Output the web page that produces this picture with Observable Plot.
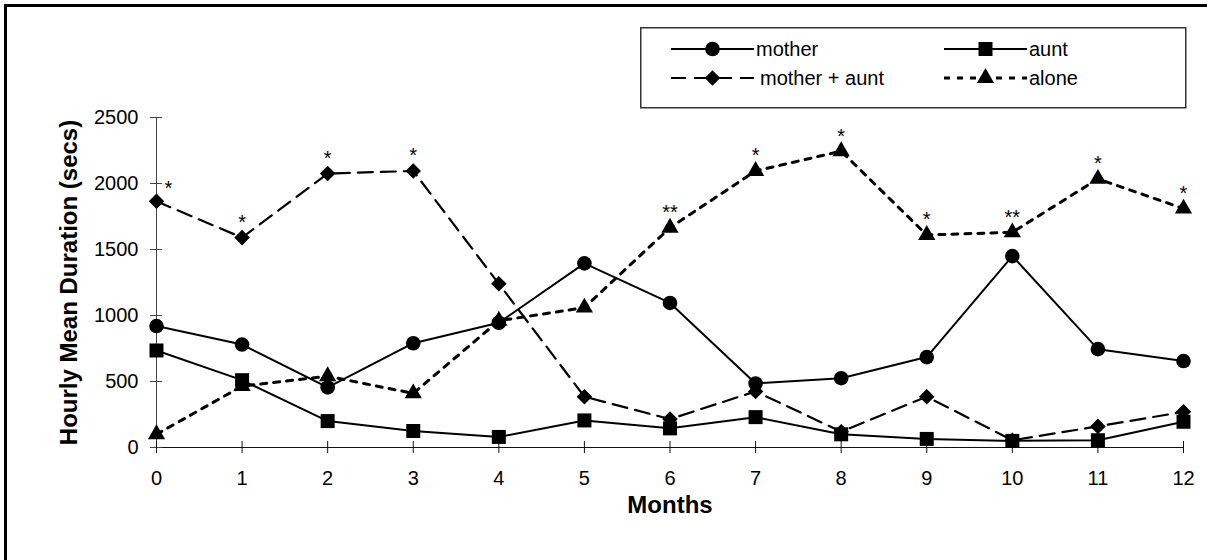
<!DOCTYPE html>
<html><head><meta charset="utf-8">
<script src="https://cdn.jsdelivr.net/npm/d3@7"></script>
<script src="https://cdn.jsdelivr.net/npm/@observablehq/plot@0.6"></script>
<style>
body{margin:0;background:#fff;}
#wrap{position:relative;width:1207px;height:560px;overflow:hidden;font-family:"Liberation Sans",Arial,sans-serif;background:#fff;}
#chart{position:absolute;left:0;top:0;}
#frame{position:absolute;left:4px;top:4px;width:1400px;height:800px;border:3px solid #000;box-sizing:border-box;pointer-events:none;}
#legend{position:absolute;left:640px;top:27px;}
</style></head>
<body><div id="wrap"><div id="chart"></div><svg id="legend"></svg><div id="frame"></div></div>
<script>
// ---- data ----
const months = [0,1,2,3,4,5,6,7,8,9,10,11,12];
const motherVals     = [920, 780, 455, 790, 945, 1395, 1095, 485, 525, 685, 1450, 745, 655];
const auntVals       = [735, 510, 200, 125, 80, 205, 145, 230, 100, 65, 50, 55, 195];
const motherAuntVals = [1865, 1590, 2075, 2095, 1240, 385, 215, 425, 120, 385, 55, 160, 270];
const aloneVals      = [100, 465, 540, 410, 960, 1060, 1665, 2095, 2245, 1610, 1630, 2035, 1810];
const motherAuntStars = ["*","*","*","*","","","","","","","","",""];
const aloneStars      = ["","","","","","","**","*","*","*","**","*","*"];
const seriesNames = ["mother","aunt","mother + aunt","alone"];
const yTicks = [0,500,1000,1500,2000,2500];
const xTitle = "Months";
const yTitle = "Hourly Mean Duration (secs)";

const seriesVals = [motherVals, auntVals, motherAuntVals, aloneVals];
const rows = seriesNames.flatMap((s,i)=>months.map((m,j)=>({series:s, month:m, value:seriesVals[i][j]})));
const stars = [
  ...months.map((m,j)=>({series:"mother + aunt", month:m, value:motherAuntVals[j], label:motherAuntStars[j]})),
  ...months.map((m,j)=>({series:"alone", month:m, value:aloneVals[j], label:aloneStars[j]}))
].filter(d=>d.label);

const style = {
  "mother":        {symbol:"circle",   r:7.3, dash:null,   sw:2},
  "aunt":          {symbol:"square",   r:7.9, dash:null,   sw:2},
  "mother + aunt": {symbol:"diamond2", r:7.0, dash:"15,8", sw:2.2},
  "alone":         {symbol:"triangle", r:6.4, dash:"6,7",  sw:3}
};
const font = "Liberation Sans, Arial, sans-serif";

const marks = [
  Plot.ruleX([0], {stroke:"#444", strokeWidth:1}),
  Plot.ruleY([0], {stroke:"#111", strokeWidth:1}),
  Plot.axisY({ticks:yTicks, tickSize:12, dx:6, tickPadding:12, tickFormat:d=>String(d), label:null, stroke:"#444", fontSize:20}),
  Plot.axisX({ticks:months, tickSize:12, dy:-6, tickPadding:17, tickFormat:d=>String(d), label:null, stroke:"#111", fontSize:20})
];
for (const s of seriesNames) {
  const st = style[s];
  const d = rows.filter(r=>r.series===s);
  marks.push(Plot.line(d, {x:"month", y:"value", stroke:"#000", strokeWidth:st.sw, strokeDasharray:st.dash||undefined}));
}
for (const s of seriesNames) {
  const st = style[s];
  const d = rows.filter(r=>r.series===s);
  marks.push(Plot.dot(d, {x:"month", y:"value", symbol:()=>st.symbol, r:st.r, fill:"#000", stroke:"none"}));
}
marks.push(Plot.text(stars.filter(d=>d.month!==0), {x:"month", y:"value", text:"label", dy:-15, fontSize:20, fill:"#000"}));
marks.push(Plot.text(stars.filter(d=>d.month===0), {x:"month", y:"value", text:"label", dx:12, dy:-13, fontSize:20, fill:"#000"}));
marks.push(Plot.text([yTitle], {frameAnchor:"left", textAnchor:"middle", rotate:-90, dx:-87, fontSize:24, fontWeight:"bold", fill:"#000"}));
marks.push(Plot.text([xTitle], {frameAnchor:"bottom", textAnchor:"middle", dy:65, fontSize:24, fontWeight:"bold", fill:"#000"}));

const chart = Plot.plot({
  width:1207, height:560,
  marginLeft:156, marginRight:24, marginTop:117, marginBottom:113,
  style:{fontFamily:font, fontSize:"20px", background:"transparent", color:"#000"},
  x:{type:"linear", domain:[0,12]},
  y:{type:"linear", domain:[0,2500]},
  symbol:{type:"identity"},
  marks
});
document.getElementById("chart").appendChild(chart);

// ---- legend (overlay box) ----
const leg = d3.select("#legend").attr("width",548).attr("height",83);
leg.append("rect").attr("x",0.75).attr("y",0.75).attr("width",545).attr("height",80)
  .attr("fill","#fff").attr("stroke","#333").attr("stroke-width",1.5);
const symMap = {circle:d3.symbolCircle, square:d3.symbolSquare, diamond2:d3.symbolDiamond2, triangle:d3.symbolTriangle};
const cols = [31, 304], rowsY = [22, 51], lineLen = 83;
seriesNames.forEach((s,i)=>{
  const st = style[s];
  const x0 = cols[i%2], y0 = rowsY[Math.floor(i/2)];
  const g = leg.append("g");
  g.append("line").attr("x1",x0).attr("x2",x0+lineLen).attr("y1",y0).attr("y2",y0)
    .attr("stroke","#000").attr("stroke-width",st.sw).attr("stroke-dasharray",st.dash);
  g.append("path").attr("transform",`translate(${x0+lineLen/2},${y0})`)
    .attr("d", d3.symbol(symMap[st.symbol], Math.PI*st.r*st.r)()).attr("fill","#000");
  g.append("text").attr("x", x0+lineLen+(i===2?6:2)).attr("y",y0).attr("dy","0.35em")
    .attr("font-family",font).attr("font-size",20).attr("fill","#000").text(s);
});
</script>
</body></html>
